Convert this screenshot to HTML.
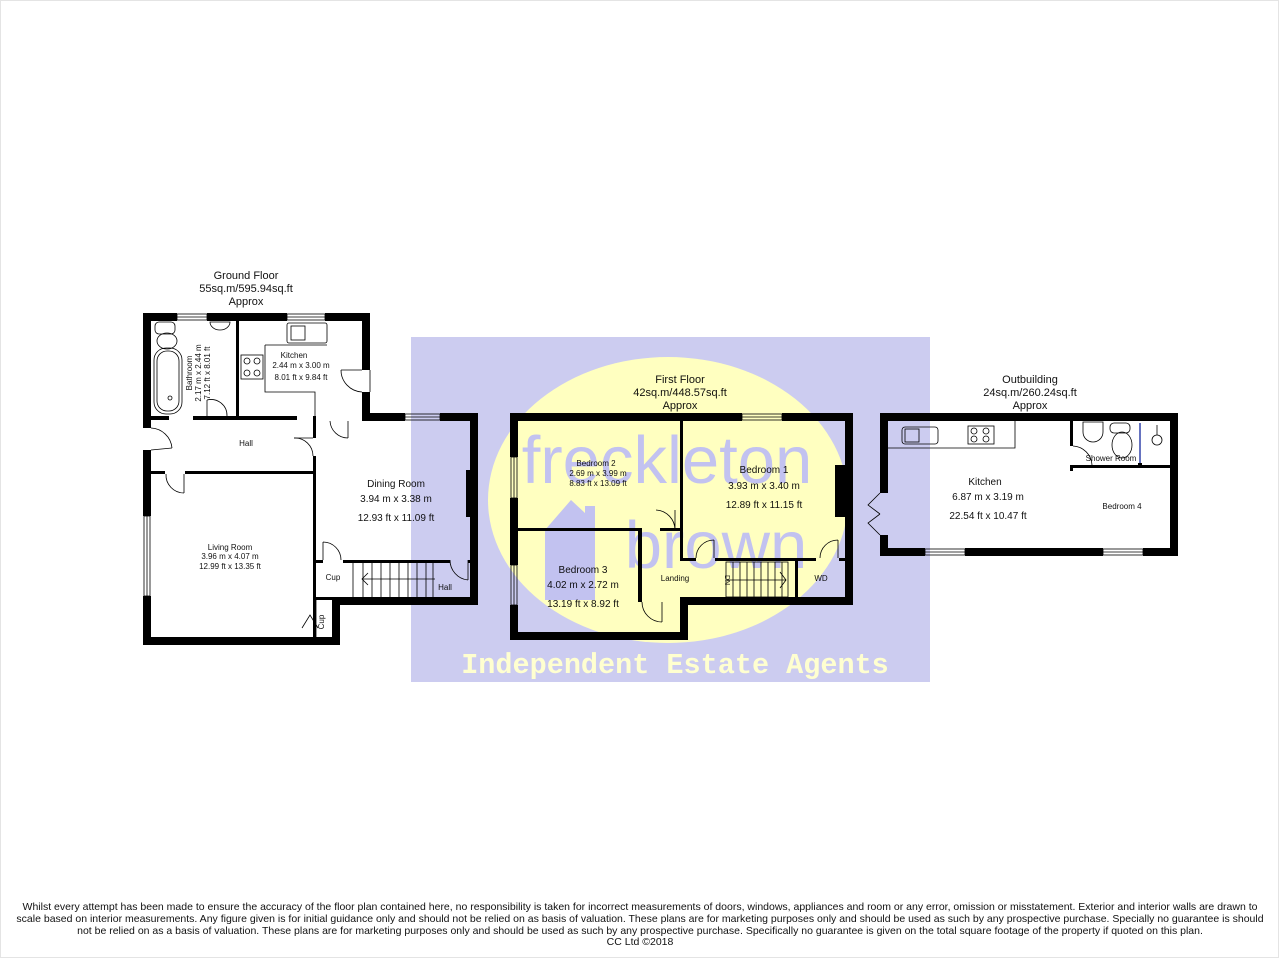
<!DOCTYPE html>
<html><head><meta charset="utf-8"><style>
html,body{margin:0;padding:0;background:#fff}
svg{display:block}
text{font-family:"Liberation Sans",Arial,sans-serif;fill:#111}
</style></head><body>
<svg width="1280" height="959" viewBox="0 0 1280 959" xmlns="http://www.w3.org/2000/svg">
<rect x="0.5" y="0.5" width="1278" height="957" fill="#fff" stroke="#e4e4e4"/>

<!-- ============ GROUND FLOOR ============ -->
<g fill="#000">
  <text x="246" y="279" font-size="11" text-anchor="middle">Ground Floor</text>
  <text x="246" y="292" font-size="11" text-anchor="middle">55sq.m/595.94sq.ft</text>
  <text x="246" y="305" font-size="11" text-anchor="middle">Approx</text>
  <rect x="143" y="313" width="34" height="8"/>
  <rect x="207" y="313" width="80" height="8"/>
  <rect x="325" y="313" width="45" height="8"/>
  <rect x="143" y="313" width="8" height="115"/>
  <rect x="143" y="450" width="8" height="66"/>
  <rect x="143" y="596" width="8" height="49"/>
  <rect x="362" y="313" width="8" height="57"/>
  <rect x="362" y="392" width="8" height="29"/>
  <rect x="362" y="413" width="43" height="8"/>
  <rect x="440" y="413" width="38" height="8"/>
  <rect x="470" y="413" width="8" height="192"/>
  <rect x="466" y="470" width="6" height="47"/>
  <rect x="340" y="597" width="138" height="8"/>
  <rect x="332" y="597" width="8" height="48"/>
  <rect x="143" y="637" width="197" height="8"/>
  <rect x="236" y="321" width="3" height="95"/>
  <rect x="151" y="416" width="18" height="4"/>
  <rect x="193" y="416" width="104" height="4"/>
  <rect x="313" y="416" width="3" height="4"/>
  <rect x="151" y="471" width="14" height="3"/>
  <rect x="185" y="471" width="130" height="3"/>
  <rect x="313" y="416" width="3" height="22"/>
  <rect x="313" y="456" width="3" height="181"/>
  <rect x="313" y="560" width="10" height="3"/>
  <rect x="343" y="560" width="107" height="3"/>
  <rect x="468" y="560" width="4" height="3"/>
  <rect x="315" y="597" width="25" height="3"/>
</g>
<g fill="none" stroke="#000" stroke-width="0.8">
  <rect x="177" y="314" width="30" height="6"/><line x1="177" y1="317" x2="207" y2="317"/>
  <rect x="287" y="314" width="38" height="6"/><line x1="287" y1="317" x2="325" y2="317"/>
  <rect x="405" y="414" width="35" height="6"/><line x1="405" y1="417" x2="440" y2="417"/>
  <rect x="144" y="516" width="6" height="80"/><line x1="147" y1="516" x2="147" y2="596"/>
  <rect x="155" y="322" width="20" height="12" rx="4"/>
  <ellipse cx="167" cy="341" rx="10" ry="8"/>
  <rect x="154" y="348" width="28" height="66" rx="12"/>
  <rect x="157" y="351" width="22" height="60" rx="10"/>
  <circle cx="170" cy="398" r="2"/>
  <path d="M210 322 a10 8 0 0 0 20 0 z"/>
  <rect x="287" y="323" width="40" height="20" rx="2"/><rect x="291" y="326" width="14" height="14"/>
  <path d="M265 345 H327 M265 345 V392 H315 V416"/>
  <rect x="241" y="355" width="22" height="24"/>
  <circle cx="247" cy="361" r="3"/><circle cx="257" cy="361" r="3"/><circle cx="247" cy="373" r="3"/><circle cx="257" cy="373" r="3"/>
  <path d="M370 370 V392 M341 370 A22 22 0 0 0 362 392 M341 370 H362"/>
  <path d="M207 400 A16 16 0 0 1 227 416"/><line x1="207" y1="400" x2="207" y2="416"/>
  <path d="M151 428 A22 22 0 0 1 172 448"/><line x1="151" y1="450" x2="172" y2="448"/>
  <path d="M166 474 A18 18 0 0 0 184 493 M184 474 V493"/>
  <path d="M294 438 A18 18 0 0 1 313 456"/><line x1="294" y1="438" x2="313" y2="438"/>
  <path d="M330 421 A18 18 0 0 0 348 438 M348 421 V438"/>
  <path d="M323 542 A18 18 0 0 1 341 560 M323 542 V560"/>
  <path d="M450 560 A20 20 0 0 0 468 580 M468 560 V580"/>
  <path d="M302 628 L310 615 L318 628"/>
  <rect x="353" y="562" width="80" height="37"/>
  <path d="M363 562V599 M372 562V599 M381 562V599 M390 562V599 M399 562V599 M408 562V599 M417 562V599 M426 562V599"/>
  <path d="M435 579 H362 M368 573 L362 579 L368 585"/>
  <path d="M316 600 V637"/>
</g>
<g font-size="8" text-anchor="middle">
  <text x="246" y="446">Hall</text>
  <text x="294" y="358">Kitchen</text>
  <text x="301" y="368">2.44 m  x 3.00 m</text>
  <text x="301" y="380">8.01 ft  x 9.84 ft</text>
  <text transform="translate(192,373) rotate(-90)">Bathroom</text>
  <text transform="translate(201,373) rotate(-90)">2.17 m  x 2.44 m</text>
  <text transform="translate(210,373) rotate(-90)">7.12 ft  x 8.01 ft</text>
  <text x="230" y="550">Living Room</text>
  <text x="230" y="559">3.96 m  x 4.07 m</text>
  <text x="230" y="569">12.99 ft  x 13.35 ft</text>
  <text x="333" y="580">Cup</text>
  <text x="445" y="590">Hall</text>
  <text transform="translate(324,622) rotate(-90)">Cup</text>
  <text x="396" y="487" font-size="10">Dining Room</text>
  <text x="396" y="502" font-size="10">3.94 m x 3.38 m</text>
  <text x="396" y="521" font-size="10">12.93 ft x 11.09 ft</text>
</g>

<!-- ============ FIRST FLOOR ============ -->
<g fill="#000">
  <text x="680" y="383" font-size="11" text-anchor="middle">First Floor</text>
  <text x="680" y="396" font-size="11" text-anchor="middle">42sq.m/448.57sq.ft</text>
  <text x="680" y="409" font-size="11" text-anchor="middle">Approx</text>
  <rect x="510" y="413" width="232" height="8"/>
  <rect x="782" y="413" width="71" height="8"/>
  <rect x="510" y="413" width="8" height="44"/>
  <rect x="510" y="498" width="8" height="67"/>
  <rect x="510" y="605" width="8" height="35"/>
  <rect x="510" y="632" width="178" height="8"/>
  <rect x="680" y="597" width="8" height="43"/>
  <rect x="680" y="597" width="173" height="8"/>
  <rect x="845" y="413" width="8" height="192"/>
  <rect x="835" y="465" width="10" height="52"/>
  <rect x="680" y="421" width="3" height="139"/>
  <rect x="518" y="528" width="120" height="3"/>
  <rect x="638" y="528" width="4" height="74"/>
  <rect x="660" y="528" width="20" height="3"/>
  <rect x="680" y="558" width="16" height="3"/>
  <rect x="715" y="558" width="101" height="3"/>
  <rect x="795" y="558" width="3" height="42"/>
  <rect x="839" y="558" width="6" height="3"/>
</g>
<g fill="none" stroke="#000" stroke-width="0.8">
  <rect x="742" y="414" width="40" height="6"/><line x1="742" y1="417" x2="782" y2="417"/>
  <rect x="511" y="457" width="6" height="41"/><line x1="514" y1="457" x2="514" y2="498"/>
  <rect x="511" y="565" width="6" height="40"/><line x1="514" y1="565" x2="514" y2="605"/>
  <path d="M656 510 A20 20 0 0 1 675 530 M675 510 V530" />
  <path d="M696 558 A18 18 0 0 1 714 540 M714 540 V558"/>
  <path d="M820 558 A18 18 0 0 1 838 540 M838 540 V558"/>
  <path d="M642 602 A20 20 0 0 0 662 622 M662 602 V622"/>
  <rect x="726" y="562" width="62" height="35"/>
  <path d="M733 562V597 M740 562V597 M747 562V597 M754 562V597 M761 562V597 M768 562V597 M775 562V597 M782 562V597"/>
  <path d="M727 580 H786 M780 572 L786 580 L780 588"/>
</g>
<g font-size="8" text-anchor="middle">
  <text x="596" y="466">Bedroom 2</text>
  <text x="598" y="476">2.69 m  x 3.99 m</text>
  <text x="598" y="486">8.83 ft  x 13.09 ft</text>
  <text x="764" y="473" font-size="10">Bedroom 1</text>
  <text x="764" y="489" font-size="10">3.93 m x 3.40 m</text>
  <text x="764" y="508" font-size="10">12.89 ft x 11.15 ft</text>
  <text x="583" y="573" font-size="10">Bedroom 3</text>
  <text x="583" y="588" font-size="10">4.02 m x 2.72 m</text>
  <text x="583" y="607" font-size="10">13.19 ft x 8.92 ft</text>
  <text x="675" y="581">Landing</text>
  <text x="821" y="581">WD</text>
  <text transform="translate(725,580) rotate(90)" font-size="7">DN</text>
</g>

<!-- ============ OUTBUILDING ============ -->
<g fill="#000">
  <text x="1030" y="383" font-size="11" text-anchor="middle">Outbuilding</text>
  <text x="1030" y="396" font-size="11" text-anchor="middle">24sq.m/260.24sq.ft</text>
  <text x="1030" y="409" font-size="11" text-anchor="middle">Approx</text>
  <rect x="880" y="413" width="298" height="8"/>
  <rect x="880" y="413" width="8" height="80"/>
  <rect x="880" y="535" width="8" height="21"/>
  <rect x="880" y="548" width="45" height="8"/>
  <rect x="965" y="548" width="138" height="8"/>
  <rect x="1143" y="548" width="35" height="8"/>
  <rect x="1170" y="413" width="8" height="143"/>
  <rect x="1070" y="421" width="3" height="25"/>
  <rect x="1070" y="465" width="100" height="3"/>
  <rect x="1070" y="465" width="3" height="6"/>
  <rect x="1138" y="463" width="4" height="5"/>
</g>
<g fill="none" stroke="#000" stroke-width="0.8">
  <rect x="925" y="549" width="40" height="6"/><line x1="925" y1="552" x2="965" y2="552"/>
  <rect x="1103" y="549" width="40" height="6"/><line x1="1103" y1="552" x2="1143" y2="552"/>
  <path d="M888 448 H1015 V421"/>
  <rect x="902" y="427" width="36" height="17" rx="3"/><rect x="905" y="429" width="14" height="13"/>
  <rect x="968" y="426" width="26" height="18"/>
  <circle cx="974" cy="431" r="3"/><circle cx="986" cy="431" r="3"/><circle cx="974" cy="439" r="3"/><circle cx="986" cy="439" r="3"/>
  <path d="M1083 422 V432 A10 10 0 0 0 1103 432 V422 Z"/>
  <rect x="1110" y="423" width="20" height="10" rx="4"/>
  <ellipse cx="1122" cy="445" rx="10" ry="13"/>
  <line x1="1140" y1="423" x2="1140" y2="463" stroke="#3344aa" stroke-width="1.5"/>
  <circle cx="1157" cy="440" r="5"/><line x1="1157" y1="425" x2="1157" y2="435"/>
  <path d="M1073 446 A20 20 0 0 1 1092 465"/>
  <path d="M880 493 L868 505 L880 514 M880 535 L868 523 L880 514"/>
</g>
<g font-size="8" text-anchor="middle">
  <text x="1111" y="461">Shower Room</text>
  <text x="1122" y="509">Bedroom 4</text>
  <text x="985" y="485" font-size="10">Kitchen</text>
  <text x="988" y="500" font-size="10">6.87 m x 3.19 m</text>
  <text x="988" y="519" font-size="10">22.54 ft x 10.47 ft</text>
</g>

<!-- ============ WATERMARK ============ -->
<g style="mix-blend-mode:multiply">
  <rect x="411" y="337" width="519" height="345" fill="#ccccf0"/>
  <ellipse cx="668" cy="500" rx="180" ry="143" fill="#ffffc0"/>
  <text x="667" y="483" font-size="67" text-anchor="middle" style="fill:#c2c2f0">freckleton</text>
  <text x="716" y="568" font-size="67" text-anchor="middle" style="fill:#c2c2f0">brown</text>
  <path d="M545 530 L571 500 L585 513 L585 506 L595 506 L595 528 V600 H545 Z" fill="#c2c2f0"/>
</g>
<text x="675" y="673" font-size="28.5" font-weight="bold" text-anchor="middle" style="font-family:'Liberation Mono',monospace;fill:#ffffd0">Independent Estate Agents</text>

<!-- ============ FOOTER ============ -->
<g font-size="10.5" text-anchor="middle">
  <text x="640" y="910">Whilst every attempt has been made to ensure the accuracy of the floor plan contained here, no responsibility is taken for incorrect measurements of doors, windows, appliances and room or any error, omission or misstatement. Exterior and interior walls are drawn to</text>
  <text x="640" y="922">scale based on interior measurements. Any figure given is for initial guidance only and should not be relied on as basis of valuation. These plans are for marketing purposes only and should be used as such by any prospective purchase. Specially no guarantee is should</text>
  <text x="640" y="934">not be relied on as a basis of valuation. These plans are for marketing purposes only and should be used as such by any prospective purchase. Specifically no guarantee is given on the total square footage of the property if quoted on this plan.</text>
  <text x="640" y="945">CC Ltd ©2018</text>
</g>
</svg>
</body></html>
